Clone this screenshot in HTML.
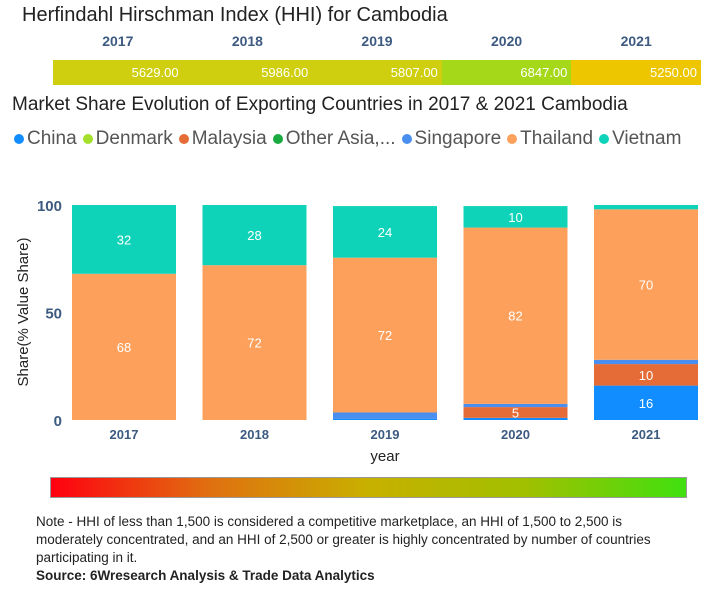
<!DOCTYPE html>
<html><head><meta charset="utf-8"><style>
body{margin:0;width:727px;height:600px;background:#fff;font-family:"Liberation Sans",sans-serif;position:relative;overflow:hidden}
.t{position:absolute;white-space:nowrap}
</style></head><body>
<div class="t" style="left:22px;top:4px;font-size:20px;color:#222">Herfindahl Hirschman Index (HHI) for Cambodia</div>
<div id="hhi"></div>
<div class="t" style="left:12px;top:94px;font-size:19px;color:#222">Market Share Evolution of Exporting Countries in 2017 &amp; 2021 Cambodia</div>
<div id="legend" class="t" style="left:14px;top:128px;font-size:19px;color:#555"></div>
<svg id="chart" width="727" height="480" style="position:absolute;left:0;top:0"></svg>
<div style="position:absolute;left:50px;top:477px;width:635px;height:19px;border:1px solid #999;background:linear-gradient(90deg,#ff0010,#e07010,#c8b000,#a0c000,#40e010)"></div>
<div style="position:absolute;left:36px;top:513px;white-space:nowrap;font-size:13.5px;line-height:18px;color:#222">Note - HHI of less than 1,500 is considered a competitive marketplace, an HHI of 1,500 to 2,500 is<br>moderately concentrated, and an HHI of 2,500 or greater is highly concentrated by number of countries<br>participating in it.<br><b>Source: 6Wresearch Analysis &amp; Trade Data Analytics</b></div>
<script>
const years=["2017","2018","2019","2020","2021"];
const hhiValues=[5629,5986,5807,6847,5250];
const seriesNames=["China","Denmark","Malaysia","Other Asia,...","Singapore","Thailand","Vietnam"];
const seriesColors=["#118dff","#a4e02a","#e66c37","#1aab40","#4a8ff0","#fca05b","#0fd3b8"];
const china=[0,0,0.5,1,16];
const denmark=[0,0,0,0,0];
const malaysia=[0,0,0,5,10];
const otherAsia=[0,0,0,0,0];
const singapore=[0,0,3,1.5,2];
const thailand=[68,72,72,82,70];
const vietnam=[32,28,24,10,2];
const labelShown=[[],[],[],["malaysia"],["china","malaysia"]];
const yTicks=[0,50,100];
const series=[china,denmark,malaysia,otherAsia,singapore,thailand,vietnam];
const keys=["china","denmark","malaysia","otherAsia","singapore","thailand","vietnam"];
const hhi=document.getElementById('hhi');
const hx0=53,hw=129.6;
const hhiColor=v=>v>6500?"#a6d81a":(v<5400?"#eec600":"#cfcf10");
years.forEach((y,i)=>{
 const l=document.createElement('div');l.className='t';l.textContent=y;
 
 
 l.style.cssText=`left:${hx0+i*hw}px;width:${hw}px;text-align:center;top:33px;font-size:14px;font-weight:bold;color:#3d5a80`;
 hhi.appendChild(l);
 const c=document.createElement('div');c.className='t';c.textContent=hhiValues[i].toFixed(2);
 
 
 c.style.cssText=`left:${hx0+i*hw}px;width:${hw-4}px;padding-right:4px;text-align:right;top:60px;height:25px;line-height:25px;font-size:13px;color:#fff;background:${hhiColor(hhiValues[i])}`;
 hhi.appendChild(c);
});
const lg=document.getElementById('legend');
seriesNames.forEach((n,i)=>{
 const s=document.createElement('span');
 
 
 s.style.marginRight='6px';
 s.innerHTML=`<span style="display:inline-block;width:10px;height:10px;border-radius:50%;background:${seriesColors[i]};margin-right:3px"></span>${n}`;
 lg.appendChild(s);
});
const svg=document.getElementById('chart');const NS='http://www.w3.org/2000/svg';
const y0=420,yTop=205;const yS=v=>y0-(y0-yTop)*v/100;
const bx0=72,step=130.5,bw=104;const xS=i=>bx0+i*step;
function mk(t,a,txt){const e=document.createElementNS(NS,t);for(const k in a)e.setAttribute(k,a[k]);if(txt!=null)e.textContent=txt;svg.appendChild(e);return e;}
yTicks.forEach(t=>{const e=mk('text',{x:62,y:yS(t)+6,'text-anchor':'end','font-size':15,'font-weight':'bold',fill:'#3d5a80'},t);
 
 });
const yt=mk('text',{x:0,y:0,transform:'translate(28,312) rotate(-90)','text-anchor':'middle','font-size':15,fill:'#222'},'Share(% Value Share)');


years.forEach((y,i)=>{
 let acc=0;
 series.forEach((s,j)=>{
  const v=s[i];if(v<=0)return;
  const r=mk('rect',{x:xS(i),y:yS(acc+v),width:bw,height:yS(acc)-yS(acc+v),fill:seriesColors[j]});
  
  
  const big=v>=8||labelShown[i].includes(keys[j]);
  if(big){const t=mk('text',{x:xS(i)+bw/2,y:(yS(acc)+yS(acc+v))/2+5,'text-anchor':'middle','font-size':13,fill:'#fff'},Math.round(v));
   
   }
  acc+=v;
 });
 const xl=mk('text',{x:xS(i)+bw/2,y:439,'text-anchor':'middle','font-size':13,'font-weight':'bold',fill:'#3d5a80'},y);
 
 
});
const xt=mk('text',{x:385,y:461,'text-anchor':'middle','font-size':15,fill:'#222'},'year');


</script>
</body></html>
